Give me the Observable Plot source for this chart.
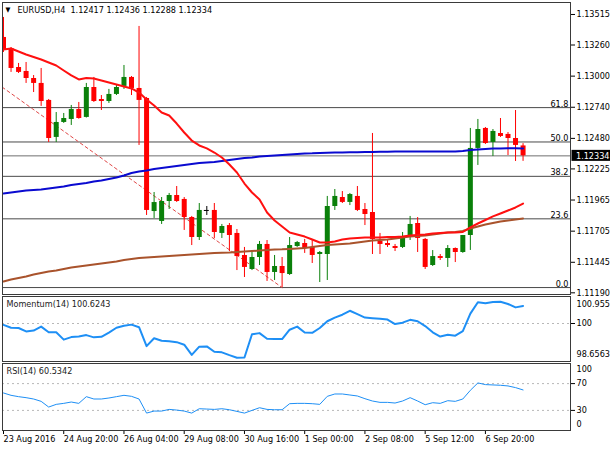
<!DOCTYPE html>
<html><head><meta charset="utf-8">
<script src="https://cdn.jsdelivr.net/npm/d3@7"></script>
<script src="https://cdn.jsdelivr.net/npm/@observablehq/plot@0.6"></script>
<style>
body{margin:0;background:#fff;}
#chart{position:relative;width:610px;height:450px;overflow:hidden;background:#fff;}
#chart svg{position:absolute;left:0;overflow:visible;}
</style></head><body><div id="chart"></div>
<script>
const symbolTitle = "EURUSD,H4  1.12417 1.12436 1.12288 1.12334";
const momTitle = "Momentum(14) 100.6243";
const rsiTitle = "RSI(14) 60.5342";

const opens = [1.13323,1.13231,1.13072,1.13039,1.12980,1.12939,1.12797,1.12488,1.12613,1.12638,
1.12721,1.12655,1.12905,1.12805,1.12788,1.12847,1.12914,1.12989,1.12897,1.12813,
1.11869,1.11786,1.11953,1.12003,1.11970,1.11819,1.11652,1.11878,1.11878,1.11686,
1.11752,1.11686,1.11502,1.11385,1.11485,1.11594,1.11360,1.11410,1.11343,1.11577,
1.11602,1.11569,1.11510,1.11510,1.11911,1.11986,1.11945,1.11995,1.11886,1.11861,
1.11619,1.11602,1.11577,1.11569,1.11652,1.11769,1.11636,1.11418,1.11493,1.11477,
1.11560,1.11527,1.11669,1.12396,1.12563,1.12446,1.12521,1.12513,1.12479,1.12417];
const highs = [1.13490,1.13239,1.13106,1.13114,1.13005,1.13064,1.12805,1.12696,1.12688,1.12755,
1.12780,1.12939,1.12989,1.12838,1.12889,1.12922,1.13089,1.12997,1.13415,1.12822,
1.12028,1.11986,1.12020,1.12078,1.11986,1.11828,1.11936,1.11911,1.11936,1.11761,
1.11769,1.11719,1.11569,1.11543,1.11619,1.11627,1.11502,1.11485,1.11652,1.11619,
1.11636,1.11627,1.11535,1.11995,1.12053,1.12036,1.12020,1.12078,1.11936,1.12521,
1.11686,1.11636,1.11594,1.11694,1.11828,1.11819,1.11644,1.11543,1.11510,1.11585,
1.11565,1.11669,1.12563,1.12638,1.12571,1.12554,1.12646,1.12529,1.12713,1.12436];
const lows = [1.13198,1.13031,1.13022,1.12939,1.12863,1.12747,1.12446,1.12446,1.12605,1.12588,
1.12640,1.12650,1.12780,1.12713,1.12772,1.12838,1.12889,1.12838,1.12421,1.11836,
1.11811,1.11761,1.11886,1.11945,1.11711,1.11585,1.11627,1.11836,1.11644,1.11644,
1.11535,1.11376,1.11318,1.11376,1.11418,1.11285,1.11293,1.11234,1.11335,1.11569,
1.11519,1.11435,1.11276,1.11293,1.11878,1.11936,1.11919,1.11869,1.11752,1.11510,
1.11510,1.11569,1.11535,1.11560,1.11627,1.11527,1.11385,1.11410,1.11460,1.11402,
1.11443,1.11520,1.11544,1.12254,1.12429,1.12329,1.12488,1.12337,1.12287,1.12288];
const closes = [1.13214,1.13064,1.13031,1.12980,1.12939,1.12788,1.12479,1.12613,1.12646,1.12721,
1.12646,1.12905,1.12788,1.12788,1.12847,1.12905,1.12989,1.12897,1.12797,1.11878,
1.11944,1.11953,1.12003,1.11953,1.11819,1.11652,1.11878,1.11878,1.11694,1.11744,
1.11669,1.11493,1.11402,1.11485,1.11594,1.11360,1.11410,1.11351,1.11585,1.11610,
1.11560,1.11502,1.11527,1.11911,1.11995,1.11945,1.12011,1.11878,1.11844,1.11635,
1.11594,1.11585,1.11560,1.11652,1.11761,1.11644,1.11402,1.11493,1.11477,1.11560,
1.11527,1.11669,1.12396,1.12554,1.12437,1.12538,1.12496,1.12479,1.12421,1.12334];

const redMA = [1.13223,1.13231,1.13206,1.13181,1.13160,1.13139,1.13114,1.13089,1.13047,1.13006,
1.12972,1.12985,1.12980,1.12964,1.12947,1.12930,1.12914,1.12897,1.12863,1.12805,
1.12755,1.12696,1.12671,1.12604,1.12529,1.12462,1.12421,1.12396,1.12362,1.12320,
1.12262,1.12195,1.12103,1.12028,1.11970,1.11861,1.11794,1.11744,1.11694,1.11677,
1.11660,1.11635,1.11610,1.11610,1.11619,1.11635,1.11644,1.11648,1.11652,1.11652,
1.11652,1.11656,1.11656,1.11660,1.11669,1.11673,1.11677,1.11686,1.11690,1.11694,
1.11694,1.11698,1.11736,1.11769,1.11798,1.11828,1.11853,1.11878,1.11903,1.11936];
const brownMA = [1.11284,1.11301,1.11314,1.11326,1.11343,1.11356,1.11368,1.11376,1.11389,1.11401,
1.11410,1.11418,1.11427,1.11435,1.11443,1.11452,1.11464,1.11472,1.11480,1.11485,
1.11489,1.11493,1.11497,1.11502,1.11506,1.11510,1.11514,1.11518,1.11523,1.11525,
1.11527,1.11531,1.11535,1.11539,1.11543,1.11548,1.11552,1.11553,1.11556,1.11560,
1.11564,1.11573,1.11581,1.11589,1.11594,1.11598,1.11602,1.11610,1.11619,1.11627,
1.11631,1.11635,1.11644,1.11652,1.11660,1.11665,1.11669,1.11677,1.11686,1.11694,
1.11698,1.11706,1.11727,1.11744,1.11760,1.11773,1.11786,1.11794,1.11803,1.11811];
const blueMA = [1.12020,1.12028,1.12036,1.12045,1.12049,1.12053,1.12061,1.12070,1.12078,1.12091,
1.12099,1.12107,1.12120,1.12128,1.12140,1.12153,1.12170,1.12191,1.12203,1.12212,
1.12224,1.12233,1.12241,1.12249,1.12258,1.12266,1.12274,1.12279,1.12283,1.12291,
1.12300,1.12308,1.12317,1.12320,1.12329,1.12333,1.12337,1.12341,1.12345,1.12350,
1.12354,1.12355,1.12358,1.12360,1.12362,1.12362,1.12364,1.12365,1.12366,1.12366,
1.12368,1.12369,1.12371,1.12371,1.12371,1.12371,1.12371,1.12371,1.12371,1.12371,
1.12371,1.12375,1.12383,1.12387,1.12391,1.12396,1.12396,1.12397,1.12397,1.12396];

const momentum = [99.95,99.85,99.84,99.72,99.75,99.89,99.69,99.69,99.43,99.52,
99.54,99.59,99.51,99.53,99.68,99.85,99.92,99.96,99.87,99.20,
99.48,99.39,99.37,99.34,99.25,98.89,99.18,99.19,99.00,98.98,
98.88,98.79,98.80,99.62,99.66,99.46,99.45,99.45,99.78,99.89,
99.68,99.67,99.84,100.08,100.21,100.31,100.45,100.33,100.21,100.19,
100.17,100.14,99.98,100.03,100.13,100.08,99.91,99.69,99.54,99.60,
99.57,99.73,100.35,100.75,100.72,100.76,100.77,100.69,100.57,100.62];
const rsi = [56,52.5,50.5,49,47,43.5,35,39,40.5,42.5,
40.5,50.5,47,47,48.5,50.5,52.5,51,47,26,
29,29,31.5,30.5,29,26,32.5,32,31.5,32.5,
31,28.5,26,30,34,31.5,31,31,40,40.5,
40.5,40,39,51,54.5,54.5,53,51.5,47.5,44,
42,42,41,44,49,44,38.5,41.5,40.5,44.5,
43.5,47,60,71,68.5,68,67.5,66.5,64,60.53];

const priceTicks = [1.13515,1.13260,1.13000,1.12740,1.12480,1.12225,1.11965,1.11705,1.11445,1.11190];
const priceDomain = [1.11176, 1.13615];
const lastClose = 1.12334;
const fibLabels = ["61.8","50.0","38.2","23.6","0.0"];
const fibPrices = [1.12737,1.12450,1.12163,1.11808,1.11234];
const fibAnchorBars = [-17, 37];
const fibAnchorPrices = [1.13666, 1.11234];

const momDomain = [98.6563, 100.955];
const momTop = 100.955, momMid = 100, momBottom = 98.6563;
const rsiLevels = [70, 30];
const rsiTop = 100, rsiBottom = 0;

const dateTicks = [0,8,16,24,32,40,48,56,64];
const dateLabels = ["23 Aug 2016","24 Aug 20:00","26 Aug 04:00","29 Aug 08:00","30 Aug 16:00","1 Sep 00:00","2 Sep 08:00","5 Sep 12:00","6 Sep 20:00"];
const xDomain = [-0.133, 75.3];

const FONT = '"DejaVu Sans Condensed","DejaVu Sans",sans-serif';
const UP = "#0a800a", DOWN = "#ff0000";
const bars = opens.map((o, i) => ({i, o, h: highs[i], l: lows[i], c: closes[i]}));
const col = d => d.c > d.o ? UP : d.c < d.o ? DOWN : "#000";
const fib = fibLabels.map((t, k) => ({t, p: fibPrices[k]}));
const fibLine = fibAnchorBars.map((b, k) => ({b, p: fibAnchorPrices[k]}));
const fmt5 = d3.format(".5f");
const style = {fontFamily: FONT, fontSize: "9px", background: "transparent", color: "#000", overflow: "visible"};
const chart = document.getElementById("chart");

const main = Plot.plot({
  width: 610, height: 296, marginTop: 2, marginBottom: 2, marginLeft: 2, marginRight: 40,
  style,
  x: {domain: xDomain, axis: null},
  y: {domain: priceDomain, axis: null},
  marks: [
    Plot.ruleY(fib, {y: "p", stroke: "#4a4a4a", strokeWidth: 1}),
    Plot.ruleY([lastClose], {stroke: "#707070", strokeWidth: 1}),
    Plot.text(fib, {y: "p", text: "t", frameAnchor: "right", textAnchor: "end", lineAnchor: "bottom", dx: -2, dy: -1, fill: "#000"}),
    Plot.line(fibLine, {x: "b", y: "p", stroke: "#e04848", strokeWidth: 1, strokeDasharray: "3,3", clip: true}),
    Plot.ruleX(bars, {x: "i", y1: "l", y2: "h", stroke: col, strokeWidth: 1, clip: true}),
    Plot.ruleX(bars.filter(d => d.o !== d.c), {x: "i", y1: "o", y2: "c", stroke: col, strokeWidth: 5, clip: true}),
    Plot.ruleY(bars.filter(d => d.o === d.c), {y: "o", x1: d => d.i - 0.33, x2: d => d.i + 0.33, stroke: "#000", strokeWidth: 1}),
    Plot.line(brownMA, {x: (d, i) => i, y: d => d, stroke: "#a9532c", strokeWidth: 2}),
    Plot.line(blueMA, {x: (d, i) => i, y: d => d, stroke: "#0a0ad0", strokeWidth: 2}),
    Plot.line(redMA, {x: (d, i) => i, y: d => d, stroke: "#ff1010", strokeWidth: 2}),
    Plot.axisY({anchor: "right", ticks: priceTicks, tickFormat: fmt5, tickSize: 4, tickPadding: 2, stroke: "#000"}),
    Plot.frame({stroke: "#3a3a3a"}),
    Plot.text(["\u25BC"], {frameAnchor: "top-left", dx: 3, dy: 5, lineAnchor: "top", fontSize: 7, fill: "#000"}),
    Plot.text([symbolTitle], {frameAnchor: "top-left", dx: 15, dy: 4, lineAnchor: "top", fill: "#000"})
  ]
});
main.style.top = "0px";
chart.appendChild(main);
{
  const ys = main.scale("y"), xs = main.scale("x");
  const yy = ys.apply(lastClose), xr = xs.range[1];
  const s = d3.select(main);
  s.append("rect").attr("x", xr + 1.5).attr("y", yy - 5.5).attr("width", 610 - xr - 1.5).attr("height", 11).attr("fill", "#000");
  s.append("text").attr("x", xr + 6).attr("y", yy).attr("dy", "0.35em").attr("fill", "#fff")
    .attr("text-anchor", "start")
    .style("font-family", FONT).style("font-size", "9px").text(fmt5(lastClose));
}

const mom = Plot.plot({
  width: 610, height: 67, marginTop: 1, marginBottom: 1, marginLeft: 2, marginRight: 40,
  style,
  x: {domain: xDomain, axis: null},
  y: {domain: momDomain, axis: null},
  marks: [
    Plot.ruleY([momMid], {stroke: "#b8b8b8", strokeDasharray: "2,3"}),
    Plot.line(momentum, {x: (d, i) => i, y: d => d, stroke: "#1e8ff5", strokeWidth: 2}),
    Plot.axisY({anchor: "right", ticks: [momMid], tickFormat: d => String(d), tickSize: 4, tickPadding: 2}),
    Plot.text([momTop], {y: d => d, text: d => String(d), frameAnchor: "right", textAnchor: "start", dx: 6, dy: 8, fill: "#000"}),
    Plot.text([momBottom], {y: d => d, text: d => String(d), frameAnchor: "right", textAnchor: "start", dx: 6, dy: -7, fill: "#000"}),
    Plot.frame({stroke: "#3a3a3a"}),
    Plot.text([momTitle], {frameAnchor: "top-left", dx: 4, dy: 4, lineAnchor: "top", fill: "#222"})
  ]
});
mom.style.top = "295px";
chart.appendChild(mom);

const rsiPlot = Plot.plot({
  width: 610, height: 88, marginTop: 1, marginBottom: 20, marginLeft: 2, marginRight: 40,
  style,
  x: {domain: xDomain, axis: null},
  y: {domain: [0, 100], axis: null},
  marks: [
    Plot.ruleY(rsiLevels, {stroke: "#b8b8b8", strokeDasharray: "2,3"}),
    Plot.line(rsi, {x: (d, i) => i, y: d => d, stroke: "#1e8ff5", strokeWidth: 1}),
    Plot.axisY({anchor: "right", ticks: rsiLevels, tickFormat: d => String(d), tickSize: 4, tickPadding: 2}),
    Plot.text([rsiTop], {y: d => d, text: d => String(d), frameAnchor: "right", textAnchor: "start", dx: 6, dy: 6, fill: "#000"}),
    Plot.text([rsiBottom], {y: d => d, text: d => String(d), frameAnchor: "right", textAnchor: "start", dx: 6, dy: -6, fill: "#000"}),
    Plot.axisX({anchor: "bottom", ticks: dateTicks, tickFormat: d => dateLabels[dateTicks.indexOf(d)], tickSize: 4, tickPadding: 1, textAnchor: "start", dx: 0}),
    Plot.frame({stroke: "#3a3a3a"}),
    Plot.text([rsiTitle], {frameAnchor: "top-left", dx: 4, dy: 4, lineAnchor: "top", fill: "#222"})
  ]
});
rsiPlot.style.top = "362px";
chart.appendChild(rsiPlot);
</script></body></html>
